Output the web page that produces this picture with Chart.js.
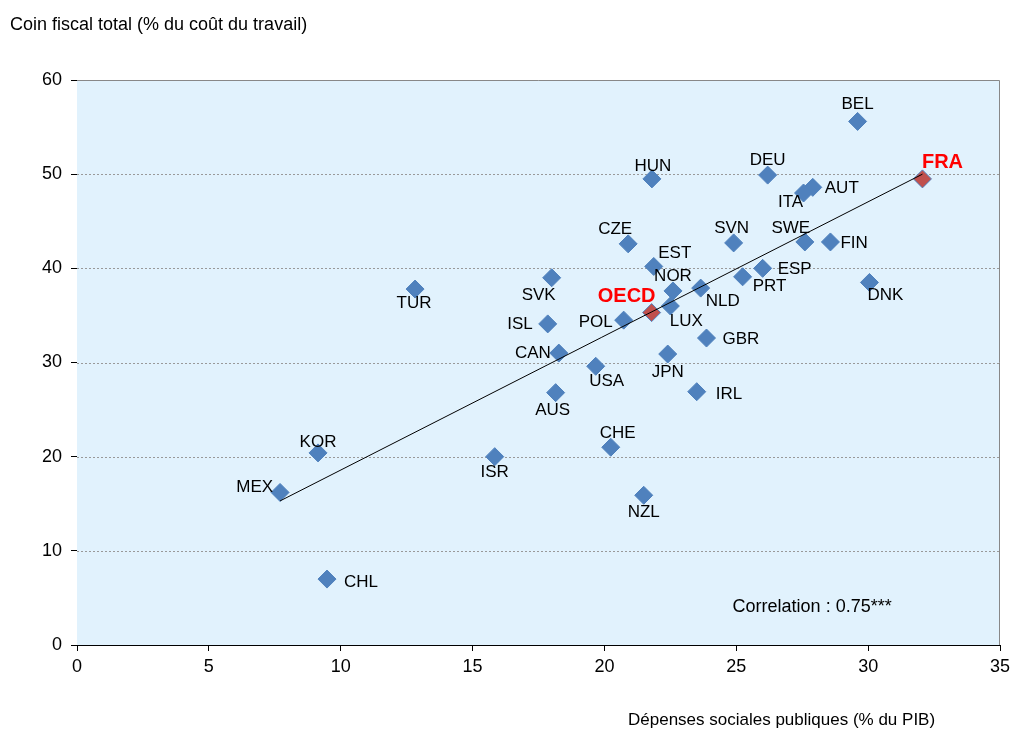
<!DOCTYPE html>
<html>
<head>
<meta charset="utf-8">
<script src="https://cdn.jsdelivr.net/npm/chart.js@4/dist/chart.umd.min.js"></script>
<style>
  body { margin: 0; background: #fff; }
</style>
</head>
<body>
<canvas id="graf" width="1011" height="733"></canvas>
<script>
// data
const countries = ["BEL", "FRA", "DEU", "HUN", "AUT", "ITA", "CZE", "SVN", "SWE", "FIN",
    "EST", "ESP", "PRT", "DNK", "NOR", "NLD", "LUX", "OECD", "POL", "GBR",
    "SVK", "ISL", "CAN", "USA", "JPN", "AUS", "IRL", "CHE", "ISR", "NZL",
    "TUR", "KOR", "MEX", "CHL"];
const socialSpending = [29.6, 32.06, 26.19, 21.8, 27.9, 27.55, 20.9, 24.9, 27.6, 28.57,
    21.87, 26.0, 25.24, 30.05, 22.6, 23.65, 22.5, 21.79, 20.73, 23.87,
    18.0, 17.85, 18.27, 19.67, 22.4, 18.15, 23.5, 20.24, 15.84, 21.49,
    12.82, 9.14, 7.7, 9.48];
const taxWedge = [55.6, 49.5, 49.9, 49.5, 48.6, 48.0, 42.6, 42.7, 42.8, 42.8,
    40.2, 40.0, 39.1, 38.5, 37.6, 37.9, 36.0, 35.3, 34.5, 32.6,
    39.0, 34.1, 31.0, 29.6, 30.9, 26.8, 26.9, 21.0, 20.0, 15.9,
    37.8, 20.4, 16.2, 7.0];
const trendX = [7.7, 32.06];
const trendY = [15.3, 50.0];
const highlighted = ["FRA", "OECD"];

// where each country label sits around its marker: [dx, dy, align]
const labelPlace = {
    BEL: [0, -17, "center"], FRA: [20, -16, "center"], DEU: [0, -15, "center"],
    HUN: [1, -13, "center"], AUT: [12, 1, "left"], ITA: [-13, 9, "center"],
    CZE: [-13, -15, "center"], SVN: [-2, -15, "center"], SWE: [-14, -14, "center"],
    FIN: [10, 1, "left"], EST: [21, -13, "center"], ESP: [15, 1, "left"],
    PRT: [27, 10, "center"], DNK: [16, 13, "center"], NOR: [0, -15, "center"],
    NLD: [22, 13, "center"], LUX: [16, 15, "center"], OECD: [-25, -16, "center"],
    POL: [-11, 2, "right"], GBR: [16, 1, "left"], SVK: [-13, 18, "center"],
    ISL: [-15, 0, "right"], CAN: [-8, 0, "right"], USA: [11, 15, "center"],
    JPN: [0, 18, "center"], AUS: [-3, 18, "center"], IRL: [19, 3, "left"],
    CHE: [7, -14, "center"], ISR: [0, 16, "center"], NZL: [0, 17, "center"],
    TUR: [-1, 14, "center"], KOR: [0, -11, "center"], MEX: [-7, -5, "right"],
    CHL: [17, 3, "left"]
};

const FONT = "'Liberation Sans', Arial, sans-serif";

const points = countries.map((c, i) => ({x: socialSpending[i], y: taxWedge[i]}));
const trend = trendX.map((x, i) => ({x: x, y: trendY[i]}));
const fills = countries.map(c => highlighted.includes(c) ? "#C0504D" : "#4F81BD");

const decor = {
    id: "decor",
    beforeDatasetsDraw(chart) {
        const {ctx, chartArea: a, scales: {x, y}} = chart;
        ctx.save();
        ctx.fillStyle = "rgb(225,242,253)";
        ctx.fillRect(a.left, a.top, a.right - a.left, a.bottom - a.top);
        // dotted grid lines
        ctx.strokeStyle = "#999";
        ctx.lineWidth = 1;
        ctx.setLineDash([2, 2]);
        [10, 20, 30, 40, 50].forEach(v => {
            const py = Math.round(y.getPixelForValue(v)) + 0.5;
            ctx.beginPath();
            ctx.moveTo(a.left, py);
            ctx.lineTo(a.right, py);
            ctx.stroke();
        });
        ctx.setLineDash([]);
        ctx.strokeStyle = "#888";
        ctx.beginPath();
        ctx.moveTo(a.left, Math.round(a.top) + 0.5);
        ctx.lineTo(Math.round(a.right) - 0.5, Math.round(a.top) + 0.5);
        ctx.lineTo(Math.round(a.right) - 0.5, a.bottom);
        ctx.stroke();
        ctx.restore();
    },
    afterDatasetsDraw(chart) {
        const {ctx, scales: {x, y}} = chart;
        const meta = chart.getDatasetMeta(1);
        ctx.save();
        ctx.textBaseline = "middle";
        meta.data.forEach((pt, i) => {
            const name = countries[i];
            const p = labelPlace[name];
            if (highlighted.includes(name)) {
                ctx.font = "bold 20px " + FONT;
                ctx.fillStyle = "#FF0000";
            } else {
                ctx.font = "17px " + FONT;
                ctx.fillStyle = "#000";
            }
            ctx.textAlign = p[2];
            ctx.fillText(name, pt.x + p[0], pt.y + p[1]);
        });
        ctx.font = "18px " + FONT;
        ctx.fillStyle = "#000";
        ctx.textAlign = "left";
        ctx.fillText("Correlation : 0.75***", x.getPixelForValue(24.86), y.getPixelForValue(4.0));
        ctx.fillText("Coin fiscal total (% du coût du travail)", 10, 25);
        ctx.font = "17px " + FONT;
        ctx.fillText("Dépenses sociales publiques (% du PIB)", 628, 720);
        ctx.restore();
    }
};

new Chart("graf", {
    type: "scatter",
    data: {
        datasets: [{
            type: "line",
            data: trend,
            borderColor: "#000",
            borderWidth: 1,
            pointRadius: 0,
            fill: false
        }, {
            data: points,
            pointStyle: "rectRot",
            pointRadius: 9,
            pointHoverRadius: 9,
            pointBackgroundColor: fills,
            pointBorderColor: "#4F81BD",
            pointBorderWidth: 1
        }]
    },
    options: {
        responsive: false,
        animation: false,
        events: [],
        layout: {padding: {top: 80, right: 11, left: 0, bottom: 0}},
        plugins: {legend: {display: false}, tooltip: {enabled: false}},
        scales: {
            x: {
                type: "linear",
                min: 0, max: 35,
                ticks: {stepSize: 5, color: "#000", padding: 5, font: {family: FONT, size: 18}},
                grid: {drawOnChartArea: false, tickLength: 6, tickColor: "#000"},
                border: {color: "#000", width: 1},
                afterFit(s) { s.height = 88; s.paddingLeft = 0; s.paddingRight = 0; }
            },
            y: {
                min: 0, max: 60,
                ticks: {stepSize: 10, color: "#000", padding: 9, font: {family: FONT, size: 18}},
                grid: {drawOnChartArea: false, tickLength: 6, tickColor: "#000"},
                border: {color: "#000", width: 1},
                afterFit(s) { s.width = 77; s.paddingTop = 0; s.paddingBottom = 0; }
            }
        }
    },
    plugins: [decor]
});
</script>
</body>
</html>
